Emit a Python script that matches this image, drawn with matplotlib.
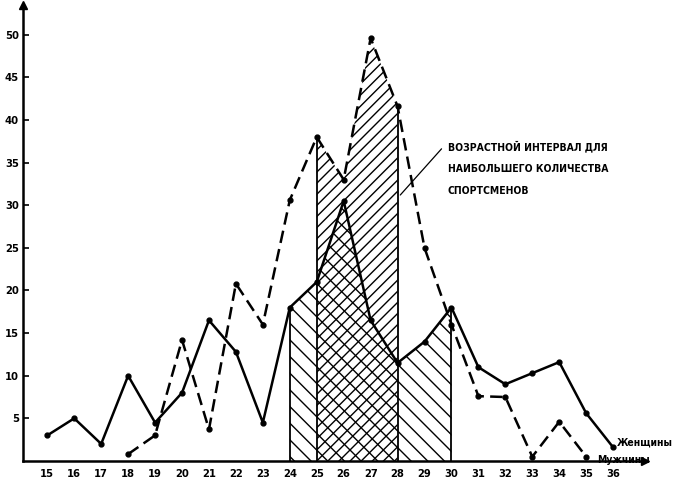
import numpy as np
import matplotlib.pyplot as plt

# ages (x) and counts of athletes (y)
ages_w = [15, 16, 17, 18, 19, 20, 21, 22, 23, 24, 25, 26, 27, 28, 29, 30, 31, 32, 33, 34, 35, 36]
women = [3, 5, 2, 10, 4.5, 8, 16.5, 12.8, 4.5, 18, 21, 30.5, 16.5, 11.5, 14, 18, 11, 9, 10.3, 11.6, 5.6, 1.6]

ages_m = [18, 19, 20, 21, 22, 23, 24, 25, 26, 27, 28, 29, 30, 31, 32, 33, 34, 35]
men = [0.8, 3, 14.2, 3.7, 20.8, 16, 30.6, 38, 33, 49.6, 41.6, 25, 16, 7.6, 7.5, 0.5, 4.6, 0.5]

xticks = list(range(15, 37))
yticks = [5, 10, 15, 20, 25, 30, 35, 40, 45, 50]

women_span = (24, 30)
men_span = (25, 28)

plt.rcParams['font.family'] = ['DejaVu Sans']
plt.rcParams['font.stretch'] = 'condensed'
plt.rcParams['hatch.linewidth'] = 1.0

fig = plt.figure(figsize=(6.78, 4.93), dpi=100)
ax = fig.add_axes([0.034, 0.065, 0.918, 0.925])
ax.set_xlim(14.1, 37.2)
ax.set_ylim(0, 53.5)

aw = np.array(ages_w)
w = np.array(women)
am = np.array(ages_m)
m = np.array(men)

# hatched intervals
mask_w = (aw >= women_span[0]) & (aw <= women_span[1])
ax.fill_between(aw[mask_w], 0, w[mask_w], facecolor='none', edgecolor='black',
                hatch='\\\\', linewidth=0)
mask_m = (am >= men_span[0]) & (am <= men_span[1])
ax.fill_between(am[mask_m], 0, m[mask_m], facecolor='none', edgecolor='black',
                hatch='///', linewidth=0)
for xv in women_span:
    ax.vlines(xv, 0, w[aw == xv][0], color='black', lw=1.3)
for xv in men_span:
    ax.vlines(xv, 0, m[am == xv][0], color='black', lw=1.3)

ax.plot(aw, w, color='black', lw=1.8, marker='o', ms=3.5)
ax.plot(am, m, color='black', lw=1.8, ls=(0, (5, 2.5)), marker='o', ms=3.5)

ax.spines['top'].set_visible(False)
ax.spines['right'].set_visible(False)
ax.spines['left'].set_linewidth(1.8)
ax.spines['bottom'].set_linewidth(1.8)
ax.plot(1, 0, '>k', ms=6, transform=ax.transAxes, clip_on=False)
ax.plot(0, 1, '^k', ms=6, transform=ax.transAxes, clip_on=False)

ax.set_xticks(xticks)
ax.set_xticklabels([str(t) for t in xticks], fontsize=8, fontweight='bold')
ax.set_yticks(yticks)
ax.set_yticklabels([str(t) for t in yticks], fontsize=8, fontweight='bold')
ax.tick_params(axis='y', direction='in', length=4, width=1.2, pad=3)
ax.tick_params(axis='x', direction='in', length=0, pad=6)

ax.annotate('ВОЗРАСТНОЙ ИНТЕРВАЛ ДЛЯ\nНАИБОЛЬШЕГО КОЛИЧЕСТВА\nСПОРТСМЕНОВ',
            xy=(28.1, 31.2), xytext=(29.87, 37.6),
            fontsize=7.5, fontweight='bold', linespacing=2.5, va='top',
            arrowprops=dict(arrowstyle='-', color='black', lw=0.9,
                            shrinkA=0, shrinkB=0,
                            relpos=(-0.04, 0.85)))
ax.text(36.15, 2.2, 'Женщины', fontsize=7.5, fontweight='bold', va='center')
ax.text(35.4, 0.1, 'Мужчины', fontsize=7.5, fontweight='bold', va='center')

fig.savefig('out.png', dpi=100)
